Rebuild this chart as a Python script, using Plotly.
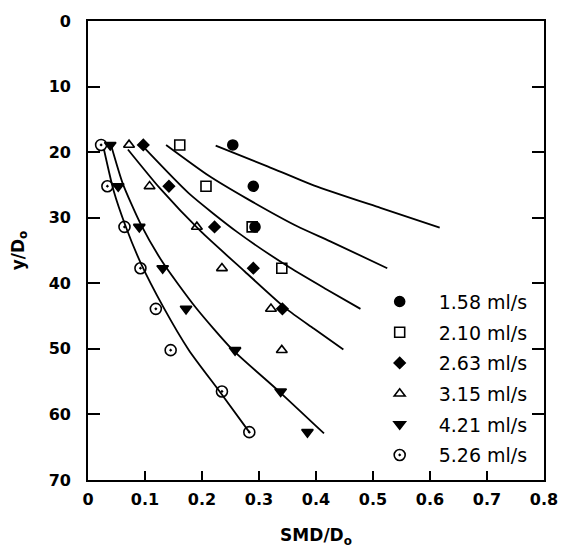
import plotly.graph_objects as go

# Axial stations (y/Do) shared by the measured profiles
stations = [18.9, 25.2, 31.4, 37.7, 43.9, 50.2, 56.5, 62.7]

flow_labels = ["1.58 ml/s", "2.10 ml/s", "2.63 ml/s", "3.15 ml/s", "4.21 ml/s", "5.26 ml/s"]

# Measured SMD/Do at each station, one list per liquid flow rate
smd_158 = [0.254, 0.290, 0.293]
smd_210 = [0.161, 0.207, 0.288, 0.340]
smd_263 = [0.097, 0.142, 0.222, 0.290, 0.341]
smd_315 = [0.072, 0.108, 0.191, 0.235, 0.321, 0.340]
smd_421 = [0.039, 0.053, 0.090, 0.131, 0.172, 0.258, 0.338, 0.385]
smd_526 = [0.023, 0.034, 0.064, 0.092, 0.119, 0.145, 0.235, 0.283]

# Predicted profiles (SMD/Do, y/Do) for each flow rate
pred_158_x = [0.224, 0.316, 0.397, 0.513, 0.617]
pred_158_y = [19.0, 22.2, 25.1, 28.5, 31.5]
pred_210_x = [0.137, 0.212, 0.281, 0.367, 0.425, 0.525]
pred_210_y = [18.9, 23.6, 27.2, 31.3, 33.6, 37.7]
pred_263_x = [0.096, 0.177, 0.262, 0.354, 0.418, 0.478]
pred_263_y = [19.1, 26.3, 32.2, 37.6, 40.9, 43.9]
pred_315_x = [0.070, 0.126, 0.198, 0.275, 0.348, 0.396, 0.448]
pred_315_y = [19.6, 25.5, 32.1, 38.2, 43.9, 46.9, 50.1]
pred_421_x = [0.040, 0.061, 0.092, 0.131, 0.189, 0.252, 0.334, 0.414]
pred_421_y = [18.8, 24.8, 30.9, 36.8, 43.7, 50.0, 56.4, 62.9]
pred_526_x = [0.028, 0.045, 0.066, 0.093, 0.132, 0.177, 0.230, 0.283]
pred_526_y = [19.6, 25.9, 31.3, 37.0, 43.6, 50.2, 56.4, 62.7]

x_ticks = [0, 0.1, 0.2, 0.3, 0.4, 0.5, 0.6, 0.7, 0.8]
x_tick_text = ["0", "0.1", "0.2", "0.3", "0.4", "0.5", "0.6", "0.7", "0.8"]
y_ticks = [0, 10, 20, 30, 40, 50, 60, 70]

measured = [smd_158, smd_210, smd_263, smd_315, smd_421, smd_526]
predicted = [
    (pred_158_x, pred_158_y), (pred_210_x, pred_210_y), (pred_263_x, pred_263_y),
    (pred_315_x, pred_315_y), (pred_421_x, pred_421_y), (pred_526_x, pred_526_y),
]
symbols = ["circle", "square-open", "diamond", "triangle-up-open", "triangle-down", "circle-open-dot"]
sizes = [10, 10, 8.5, 9.5, 10, 11]

FONT = "DejaVu Sans"
fig = go.Figure()

for px_, py_ in predicted:
    fig.add_trace(go.Scatter(
        x=px_, y=py_, mode="lines", showlegend=False,
        line=dict(color="black", width=1.8, shape="spline", smoothing=0.6),
        hoverinfo="skip",
    ))

for label, vals, sym, sz in zip(flow_labels, measured, symbols, sizes):
    fig.add_trace(go.Scatter(
        x=vals, y=stations[:len(vals)], mode="markers", name=label, legendgroup=label,
        marker=dict(symbol=sym, size=sz, color="black", line=dict(color="black", width=1.6)),
    ))

fig.update_layout(
    width=570, height=554,
    margin=dict(l=87.5, r=23.5, t=16.5, b=73.5),
    paper_bgcolor="white", plot_bgcolor="white",
    font=dict(family=FONT, color="black"),
    legend=dict(
        x=0.598, y=0.43, xanchor="left", yanchor="top",
        bgcolor="rgba(0,0,0,0)", borderwidth=0,
        font=dict(family=FONT, size=19, color="black"),
        itemwidth=68, tracegroupgap=3, traceorder="grouped",
    ),
    xaxis=dict(
        range=[0, 0.8], tickvals=x_ticks, ticktext=x_tick_text,
        ticks="inside", ticklen=9, tickwidth=1.6, tickcolor="black",
        showline=True, linecolor="black", linewidth=1.8, mirror=True,
        showgrid=False, zeroline=False, ticklabelstandoff=4,
        tickfont=dict(family=FONT, size=16, weight="bold", color="black"),
        title=dict(text="SMD/D<sub>o</sub>", standoff=21,
                   font=dict(family=FONT, size=17, weight="bold", color="black")),
    ),
    yaxis=dict(
        range=[70, 0], tickvals=y_ticks,
        ticks="inside", ticklen=12, tickwidth=1.6, tickcolor="black",
        showline=True, linecolor="black", linewidth=1.8, mirror="ticks",
        showgrid=False, zeroline=False, ticklabelstandoff=12,
        tickfont=dict(family=FONT, size=16, weight="bold", color="black"),
        title=dict(text="y/D<sub>o</sub>", standoff=20,
                   font=dict(family=FONT, size=17, weight="bold", color="black")),
    ),
)

fig.write_html("out.html")
